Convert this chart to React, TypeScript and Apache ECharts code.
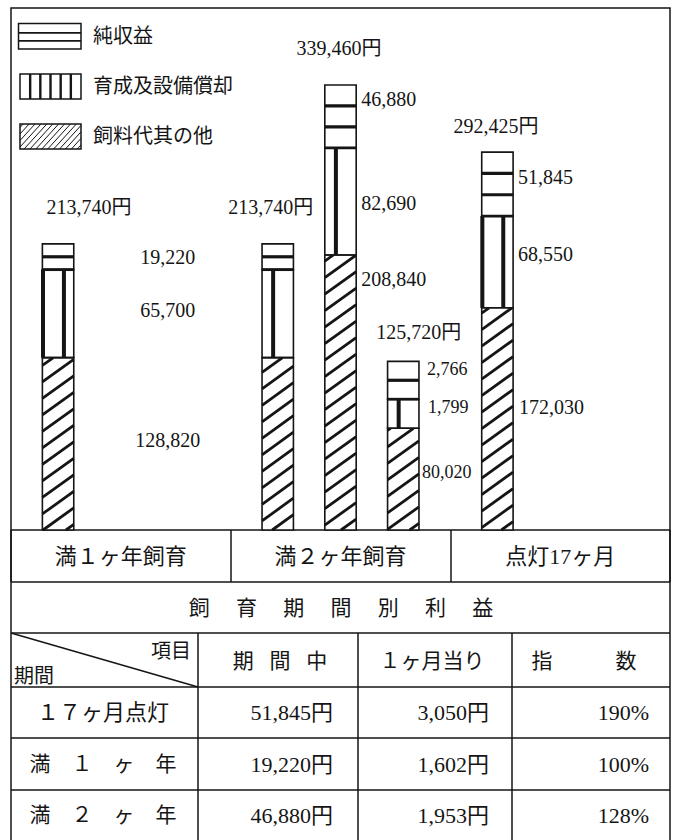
import React, { useEffect, useRef } from 'react';
import * as echarts from 'echarts';

// ---------------- data ----------------
const groupNames = ['満１ヶ年飼育', '満２ヶ年飼育', '点灯17ヶ月'];
const barNames = ['満1ヶ年', '満2ヶ年(1年目)', '満2ヶ年(通算)', '満2ヶ年(2年目)', '点灯17ヶ月'];
const barGroup = [0, 1, 1, 1, 2];
// segment heights as drawn in the picture (yen)
const feedDrawn = [128820, 128820, 205500, 76000, 166000];
const deprDrawn = [65700, 65700, 80000, 21700, 68550];
const profitDrawn = [19220, 19220, 47000, 28300, 47800];
// printed figures
const totalLabels = [213740, 213740, 339460, 125720, 292425];
const feedLabels = [128820, null, 208840, 80020, 172030];
const deprLabels = [65700, null, 82690, 1799, 68550];
const profitLabels = [19220, null, 46880, 2766, 51845];

const legendNames = ['純収益', '育成及設備償却', '飼料代其の他'];

const tableTitle = '飼育期間別利益';
const cornerLabels = ['項目', '期間'];
const columnHeaders = ['期間中', '１ヶ月当り', '指数'];
const rowLabels = ['１７ヶ月点灯', '満１ヶ年', '満２ヶ年'];
const periodProfit = [51845, 19220, 46880];
const monthlyProfit = [3050, 1602, 1953];
const profitIndex = [190, 100, 128];

// ---------------- layout ----------------
const W = 675;
const H = 840;
const FL = 11;
const FR = 670;
const FT = 8;
const FB = 530;
const SLOTS_PER_GROUP = 7;
const BAR_SLOT = [1, 1, 3, 5, 1];
const Y_MAX = 390000;
const ROW_Y = [582, 633, 687, 738, 790, 840];
const COL_X = [198, 358, 512];
const INK = '#151515';
const FONT = '"Liberation Serif", "Noto Sans CJK JP", serif';

// total label: offset of label centre from bar centre / bar top
const TOTAL_POS = [
  { dx: 31, dy: -37 },
  { dx: -7, dy: -37 },
  { dx: -1.5, dy: -37 },
  { dx: 15.5, dy: -29 },
  { dx: -1.5, dy: -26 },
];
// segment labels: x offset from bar right edge, align, dy from segment middle [profit, depr, feed]
const SEG_POS: any[] = [
  { dx: [94, 94, 94], align: 'center', dy: [0, -3.6, -3.8], size: 20 },
  null,
  { dx: [5, 5, 5], align: 'left', dy: [-17.5, 1.5, -113.5], size: 20 },
  { dx: [8, 9, 3], align: 'left', dy: [-11, -6.5, -7], size: 18 },
  { dx: [5, 5, 6], align: 'left', dy: [-7, -8, -12], size: 20 },
];

const fmt = (n: number) => n.toLocaleString('en-US');

function line(x1: number, y1: number, x2: number, y2: number, lw: number) {
  return { type: 'line', silent: true, shape: { x1, y1, x2, y2 }, style: { stroke: INK, lineWidth: lw } };
}
function rect(x: number, y: number, w: number, h: number, fill: string, stroke?: string, lw = 1.5) {
  return {
    type: 'rect',
    silent: true,
    shape: { x, y, width: w, height: h },
    style: { fill, stroke: stroke || 'none', lineWidth: lw },
  };
}
function txt(text: string, x: number, y: number, size: number, align = 'left') {
  return {
    type: 'text',
    silent: true,
    x,
    y,
    style: {
      text,
      fill: INK,
      fontSize: size,
      fontFamily: FONT,
      align,
      textAlign: align,
      verticalAlign: 'middle',
      textVerticalAlign: 'middle',
    },
  };
}
function hatch(x0: number, y0: number, x1: number, y1: number, spacing: number, slope: number, lw: number) {
  const out: any[] = [];
  const cMin = y0 + slope * x0;
  const cMax = y1 + slope * x1;
  for (let k = Math.ceil(cMin / spacing); k * spacing <= cMax; k++) {
    const c = k * spacing;
    const xa = Math.max(x0, (c - y1) / slope);
    const xb = Math.min(x1, (c - y0) / slope);
    if (xb - xa > 0.5) out.push(line(xa, c - slope * xa, xb, c - slope * xb, lw));
  }
  return out;
}
const spaced = (s: string, gap: string) => Array.from(s).join(gap);

function renderBar(params: any, api: any) {
  const slot = api.value(0);
  const f = api.value(1);
  const d = api.value(2);
  const p = api.value(3);
  const bi = api.value(4);
  const base = api.coord([slot, 0]);
  const cx = base[0];
  const yB = base[1];
  const bw = api.size([1, 0])[0];
  const x0 = cx - bw / 2;
  const x1 = cx + bw / 2;
  const yF = api.coord([slot, f])[1];
  const yD = api.coord([slot, f + d])[1];
  const yP = api.coord([slot, f + d + p])[1];
  const gridLeft = cx - (slot + 0.5) * bw;
  const ch: any[] = [];

  // feed & others: diagonal hatching
  ch.push(rect(x0, yF, bw, yB - yF, '#fff'));
  ch.push(...hatch(x0, yF, x1, yB, 16.5, 0.72, 2.8));
  // rearing & depreciation: vertical stripes
  ch.push(rect(x0, yD, bw, yF - yD, '#fff'));
  const P = (bw * 2) / 3;
  for (let k = 0; k < 40; k++) {
    const xv = gridLeft + (k + 0.53) * P;
    if (xv > x0 + 0.5 && xv < x1 - 0.5) ch.push(line(xv, yD, xv, yF, 4));
  }
  // net profit: horizontal stripes
  ch.push(rect(x0, yP, bw, yD - yP, '#fff'));
  const hP = yD - yP;
  const nL = Math.max(1, Math.floor(hP / 22));
  for (let i = 1; i <= nL; i++) {
    const yy = yP + (hP * i) / (nL + 1);
    ch.push(line(x0, yy, x1, yy, 3.2));
  }
  // outlines
  ch.push(rect(x0, yF, bw, yB - yF, 'none', INK, 1.6));
  ch.push(rect(x0, yD, bw, yF - yD, 'none', INK, 1.6));
  ch.push(rect(x0, yP, bw, yD - yP, 'none', INK, 1.6));
  ch.push(line(x0, yD, x1, yD, 2.8));

  // labels
  const tp = TOTAL_POS[bi];
  ch.push(txt(fmt(totalLabels[bi]) + '円', cx + tp.dx, yP + tp.dy, 20, 'center'));
  const sp = SEG_POS[bi];
  if (sp) {
    const mids = [(yP + yD) / 2, (yD + yF) / 2, (yF + yB) / 2];
    const vals = [profitLabels[bi], deprLabels[bi], feedLabels[bi]];
    vals.forEach((v, i) => {
      if (v != null) ch.push(txt(fmt(v), x1 + sp.dx[i], mids[i] + sp.dy[i], sp.size, sp.align));
    });
  }
  return { type: 'group', children: ch };
}

function buildOption() {
  const slots: string[] = [];
  groupNames.forEach((g, gi) => {
    for (let j = 0; j < SLOTS_PER_GROUP; j++) slots.push(`${g}-${j}`);
  });
  const slotIndex = barNames.map((n, i) => barGroup[i] * SLOTS_PER_GROUP + BAR_SLOT[i]);
  slotIndex.forEach((s, i) => (slots[s] = barNames[i]));
  const data = barNames.map((n, i) => [slotIndex[i], feedDrawn[i], deprDrawn[i], profitDrawn[i], i]);

  const g: any[] = [];
  // legend
  g.push(rect(18.5, 23.5, 62.5, 25.5, '#fff', INK, 1.5));
  g.push(line(18.5, 32.8, 81, 32.8, 1.8));
  g.push(line(18.5, 40.8, 81, 40.8, 1.8));
  g.push(rect(20, 74, 61, 25, '#fff', INK, 1.5));
  for (let i = 1; i <= 5; i++) g.push(line(20 + (i * 61) / 6, 74, 20 + (i * 61) / 6, 99, 2.4));
  g.push(rect(20, 124, 61, 25, '#fff'));
  g.push(...hatch(20, 124, 81, 149, 6.5, 1.1, 1));
  g.push(rect(20, 124, 61, 25, 'none', INK, 1.5));
  legendNames.forEach((n, i) => g.push(txt(n, 93, 36 + i * 50, 20, 'left')));

  // table lines
  for (let r = 0; r < 5; r++) g.push(line(FL, ROW_Y[r], FR, ROW_Y[r], 1.5));
  g.push(line(FL, FB, FL, H, 1.5));
  g.push(line(FR, FB, FR, H, 1.5));
  COL_X.forEach((x) => g.push(line(x, ROW_Y[1], x, H, 1.5)));
  g.push(line(FL, ROW_Y[1], COL_X[0], ROW_Y[2], 1.5));

  // table texts
  g.push(txt(spaced(tableTitle, '\u3000\u00a0'), 341, 608, 21, 'center'));
  g.push(txt(cornerLabels[0], 191, 651, 20, 'right'));
  g.push(txt(cornerLabels[1], 14, 676, 20, 'left'));
  g.push(txt(spaced(columnHeaders[0], '\u00a0\u00a0\u00a0'), 280, 661, 21, 'center'));
  g.push(txt(columnHeaders[1], 432, 661, 21, 'center'));
  g.push(txt(spaced(columnHeaders[2], '\u3000\u3000\u3000'), 584, 661, 21, 'center'));
  const rowMid = [712.5, 764, 815];
  rowLabels.forEach((r, i) => {
    const t = i === 0 ? r : spaced(r, '\u3000');
    g.push(txt(t, 103, rowMid[i], i === 0 ? 22 : 21, 'center'));
    g.push(txt(fmt(periodProfit[i]) + '円', 333, rowMid[i], 22, 'right'));
    g.push(txt(fmt(monthlyProfit[i]) + '円', 489, rowMid[i], 22, 'right'));
    g.push(txt(profitIndex[i] + '%', 649, rowMid[i], 22, 'right'));
  });

  return {
    animation: false,
    backgroundColor: '#fff',
    grid: {
      left: FL,
      top: FT,
      width: FR - FL,
      height: FB - FT,
      show: true,
      borderColor: INK,
      borderWidth: 1.5,
      backgroundColor: 'transparent',
      containLabel: false,
    },
    xAxis: [
      {
        type: 'category',
        position: 'bottom',
        data: slots,
        boundaryGap: true,
        axisLine: { show: false },
        axisTick: { show: false },
        axisLabel: { show: false },
        splitLine: { show: false },
      },
      {
        type: 'category',
        position: 'bottom',
        data: groupNames,
        boundaryGap: true,
        axisLine: { show: false },
        axisTick: { show: true, interval: 0, length: ROW_Y[0] - FB, lineStyle: { color: INK, width: 1.5 } },
        axisLabel: { interval: 0, margin: 26, verticalAlign: 'middle', fontSize: 22, fontFamily: FONT, color: INK },
        splitLine: { show: false },
      },
    ],
    yAxis: { type: 'value', min: 0, max: Y_MAX, show: false, splitLine: { show: false } },
    series: [
      {
        type: 'custom',
        xAxisIndex: 0,
        yAxisIndex: 0,
        renderItem: renderBar,
        data,
        encode: { x: 0, y: 1 },
        clip: false,
        silent: true,
        z: 2,
      },
    ],
    graphic: { elements: g },
  };
}

export default function App() {
  const ref = useRef<HTMLDivElement>(null);
  useEffect(() => {
    const chart = echarts.init(ref.current!, null, { renderer: 'svg', width: W, height: H });
    chart.setOption(buildOption() as any);
    return () => chart.dispose();
  }, []);
  return (
    <div
      ref={ref}
      style={{ position: 'fixed', left: 0, top: 0, width: W, height: H, background: '#fff' }}
    />
  );
}
